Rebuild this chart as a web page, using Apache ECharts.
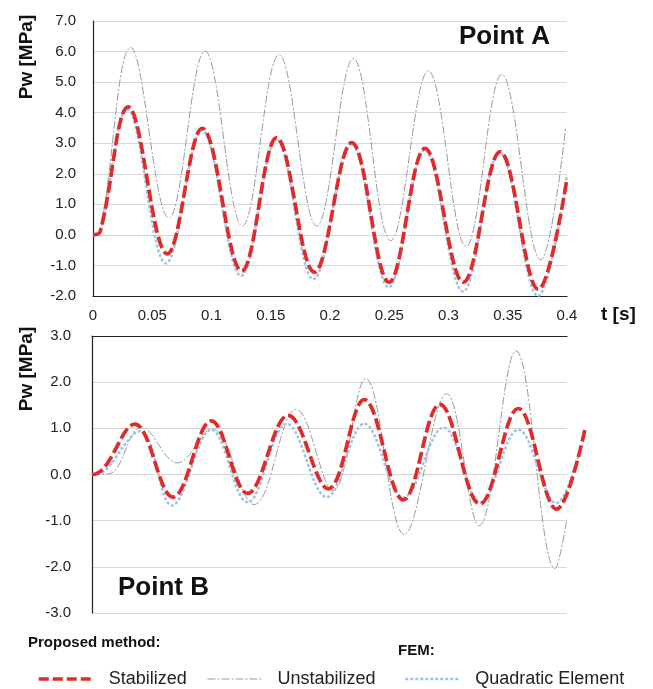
<!DOCTYPE html>
<html>
<head>
<meta charset="utf-8">
<script src="https://cdn.jsdelivr.net/npm/echarts@6/dist/echarts.min.js"></script>
<style>
  html, body { margin: 0; padding: 0; background: #fff; }
  #chart { width: 653px; height: 689px; }
</style>
</head>
<body>
<div id="chart"></div>
<script>
// Point A  [t (s), Pw (MPa)]
var stabA = [[0,0],[0.006,0.1],[0.0298,4.19],[0.0627,-0.62],[0.0922,3.49],[0.1255,-1.18],[0.155,3.18],
  [0.1868,-1.22],[0.2183,3.02],[0.2498,-1.55],[0.2802,2.83],[0.3125,-1.55],[0.3435,2.72],[0.3758,-1.78],[0.4,1.85]];
var unstabA = [[0,0],[0.006,0.1],[0.032,6.13],[0.064,0.55],[0.0945,6.02],[0.126,0.29],[0.157,5.9],
  [0.1888,0.29],[0.2197,5.77],[0.2512,-0.19],[0.283,5.37],[0.3148,-0.38],[0.3449,5.25],[0.3778,-0.82],[0.399,3.54]];
var quadA = [[0,0],[0.006,0.1],[0.029,4.12],[0.0616,-0.93],[0.092,3.42],[0.125,-1.34],[0.1548,3.12],
  [0.186,-1.45],[0.218,2.98],[0.2495,-1.71],[0.28,2.78],[0.3122,-1.85],[0.3432,2.7],[0.3755,-2.0],[0.4,1.96]];

// Point B (the FEM and stabilized curves run a little past 0.4 s)
var stabB = [[0,0],[0.004,0.02],[0.0107,0.16],[0.036,1.09],[0.0682,-0.49],[0.1005,1.16],[0.131,-0.41],
  [0.1653,1.28],[0.199,-0.31],[0.2293,1.62],[0.2622,-0.55],[0.293,1.52],[0.3267,-0.64],[0.359,1.43],[0.3913,-0.75],[0.415,0.96]];
var unstabB = [[0,0],[0.015,0.02],[0.0415,1.03],[0.072,0.25],[0.101,0.99],[0.1365,-0.65],[0.172,1.41],
  [0.203,-0.35],[0.2305,2.08],[0.263,-1.3],[0.2987,1.75],[0.326,-1.11],[0.357,2.68],[0.39,-2.04],[0.4,-0.96]];
var quadB = [[0,0],[0.004,0.01],[0.0107,0.08],[0.0407,0.94],[0.0674,-0.67],[0.1005,0.97],[0.131,-0.6],
  [0.164,1.1],[0.1976,-0.49],[0.2293,1.1],[0.2622,-0.5],[0.296,1.02],[0.327,-0.6],[0.359,0.97],[0.391,-0.62],[0.412,0.63]];

var RED = '#e02b2b', GRAY = '#9a9a9a', BLUE = '#9dc3e6';
var FONT = 'Liberation Sans, Arial, sans-serif';
var RED_DASH = [12, 4], GRAY_DASH = [8, 2, 2, 2], BLUE_DASH = [3, 2];

function line(name, data, idx, color, width, dash) {
  return {
    name: name, type: 'line', xAxisIndex: idx, yAxisIndex: idx,
    data: data, smooth: 0.38, symbol: 'none', clip: false,
    lineStyle: { color: color, width: width, type: dash },
    itemStyle: { color: color }
  };
}

var yLabel = { fontFamily: FONT, fontSize: 15, color: '#222', formatter: function (v) { return v.toFixed(1); } };
var gridLine = { lineStyle: { color: '#d9d9d9', width: 1 } };
var blackLine = { show: true, onZero: false, lineStyle: { color: '#222', width: 1.2 } };
var hidden = { axisLine: { show: false }, axisTick: { show: false }, axisLabel: { show: false }, splitLine: { show: false } };

function legend(name, left, width, dash) {
  return {
    left: left, top: 670, padding: 0, data: [name], itemWidth: 55, itemHeight: 16,
    itemStyle: { opacity: 0 },
    lineStyle: { width: width, type: dash },
    textStyle: { fontFamily: FONT, fontSize: 18, color: '#222', padding: [0, 0, 0, 10] }
  };
}

var chart = echarts.init(document.getElementById('chart'));
chart.setOption({
  animation: false,
  grid: [
    { left: 93, top: 21, width: 474, height: 275 },
    { left: 92, top: 336, width: 475, height: 277 },
    // same scale as grid 1, just wider so the curves can run to 0.415 s
    { left: 92, top: 336, width: 492.8, height: 277 }
  ],
  xAxis: [
    { type: 'value', gridIndex: 0, min: 0, max: 0.4, interval: 0.05,
      axisLine: blackLine, axisTick: { show: false }, splitLine: { show: false },
      axisLabel: { fontFamily: FONT, fontSize: 15, color: '#222', margin: 12 } },
    { type: 'value', gridIndex: 1, position: 'top', min: 0, max: 0.4, interval: 0.05,
      axisLine: blackLine, axisTick: { show: false }, splitLine: { show: false },
      axisLabel: { show: false } },
    Object.assign({ type: 'value', gridIndex: 2, min: 0, max: 0.415 }, hidden)
  ],
  yAxis: [
    { type: 'value', gridIndex: 0, min: -2, max: 7, interval: 1,
      axisLine: blackLine, axisTick: { show: false }, splitLine: gridLine,
      axisLabel: Object.assign({ margin: 17 }, yLabel) },
    { type: 'value', gridIndex: 1, min: -3, max: 3, interval: 1,
      axisLine: blackLine, axisTick: { show: false }, splitLine: gridLine,
      axisLabel: Object.assign({ margin: 21 }, yLabel) },
    Object.assign({ type: 'value', gridIndex: 2, min: -3, max: 3 }, hidden)
  ],
  legend: [
    legend('Stabilized', 37, 3.5, [10, 4]),
    legend('Unstabilized', 207, 1, GRAY_DASH),
    legend('Quadratic Element', 404, 2.5, BLUE_DASH)
  ],
  graphic: [
    { type: 'text', left: 459, top: 24, style: { text: 'Point A', font: 'bold 26px ' + FONT, fill: '#111' } },
    { type: 'text', left: 118, top: 575, style: { text: 'Point B', font: 'bold 26px ' + FONT, fill: '#111' } },
    { type: 'text', left: 601, top: 305, style: { text: 't [s]', font: 'bold 19px ' + FONT, fill: '#111' } },
    { type: 'text', x: 27, y: 57, rotation: Math.PI / 2,
      style: { text: 'Pw [MPa]', font: 'bold 19px ' + FONT, fill: '#111', align: 'center', verticalAlign: 'middle' } },
    { type: 'text', x: 27, y: 369, rotation: Math.PI / 2,
      style: { text: 'Pw [MPa]', font: 'bold 19px ' + FONT, fill: '#111', align: 'center', verticalAlign: 'middle' } },
    { type: 'text', left: 28, top: 635, style: { text: 'Proposed method:', font: 'bold 15px ' + FONT, fill: '#111' } },
    { type: 'text', left: 398, top: 643, style: { text: 'FEM:', font: 'bold 15px ' + FONT, fill: '#111' } }
  ],
  series: [
    line('Unstabilized', unstabA, 0, GRAY, 1, GRAY_DASH),
    line('Quadratic Element', quadA, 0, BLUE, 2.5, BLUE_DASH),
    line('Stabilized', stabA, 0, RED, 3.7, RED_DASH),
    line('Unstabilized', unstabB, 2, GRAY, 1, GRAY_DASH),
    line('Quadratic Element', quadB, 2, BLUE, 2.5, BLUE_DASH),
    line('Stabilized', stabB, 2, RED, 3.7, RED_DASH)
  ]
});
</script>
</body>
</html>
